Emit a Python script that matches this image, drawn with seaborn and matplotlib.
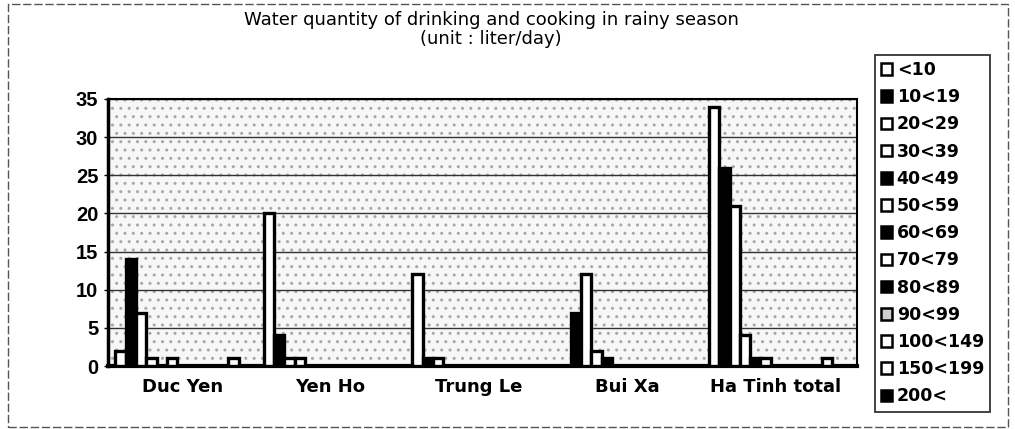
import numpy as np
import pandas as pd
import seaborn as sns
import matplotlib.pyplot as plt
from matplotlib.patches import Rectangle, Patch

communes = ["Duc Yen", "Yen Ho", "Trung Le", "Bui Xa", "Ha Tinh total"]
ranges = ["<10", "10<19", "20<29", "30<39", "40<49", "50<59", "60<69",
          "70<79", "80<89", "90<99", "100<149", "150<199", "200<"]

duc_yen = [2, 14, 7, 1, 0, 1, 0, 0, 0, 0, 0, 1, 0]
yen_ho = [20, 4, 1, 1, 0, 0, 0, 0, 0, 0, 0, 0, 0]
trung_le = [12, 1, 1, 0, 0, 0, 0, 0, 0, 0, 0, 0, 0]
bui_xa = [0, 7, 12, 2, 1, 0, 0, 0, 0, 0, 0, 0, 0]
ha_tinh = [34, 26, 21, 4, 1, 1, 0, 0, 0, 0, 0, 1, 0]

fills = ["white", "black", "white", "white", "black", "white", "black",
         "white", "black", "#d0d0d0", "white", "white", "black"]

rows = []
for name, vals in zip(communes, [duc_yen, yen_ho, trung_le, bui_xa, ha_tinh]):
    for r, v in zip(ranges, vals):
        rows.append({"commune": name, "range": r, "value": v})
df = pd.DataFrame(rows)

sns.set_theme(style="white")
plt.rcParams['font.family'] = ['DejaVu Sans']
plt.rcParams['text.color'] = 'black'
plt.rcParams['xtick.color'] = 'black'
plt.rcParams['ytick.color'] = 'black'
plt.rcParams['hatch.color'] = '#a8a8a8'

fig = plt.figure(figsize=(10.15, 4.29), dpi=100)
ax = fig.add_axes([108 / 1015, 1 - 366 / 429, (857 - 108) / 1015, (366 - 99) / 429])

# stippled background like the scanned print
ax.add_patch(Rectangle((0, 0), 1, 1, transform=ax.transAxes, facecolor="#f7f7f7",
                       edgecolor="#a8a8a8", hatch="..", linewidth=0, zorder=0))

palette = dict(zip(ranges, fills))
sns.barplot(data=df, x="commune", y="value", hue="range", hue_order=ranges,
            order=communes, palette=palette, edgecolor="black", linewidth=2.4,
            width=0.9, gap=0, legend=False, ax=ax, zorder=3)

ax.set_ylim(0, 35)
ax.set_xlim(-0.5, 4.547)
ax.set_yticks(range(0, 36, 5))
for y in range(5, 36, 5):
    ax.axhline(y, color="#333333", linewidth=1.0, zorder=1)
ax.set_xlabel("")
ax.set_ylabel("")
ax.tick_params(axis="y", pad=4, left=True, length=3, width=1, colors="black")
ax.tick_params(axis="x", pad=9, length=0, colors="black")
for lab in ax.get_yticklabels():
    lab.set_fontfamily("Liberation Sans")
    lab.set_fontsize(14.5)
    lab.set_fontweight("bold")
for lab in ax.get_xticklabels():
    lab.set_fontsize(13)
    lab.set_fontweight("bold")
for side in ["left", "bottom", "top", "right"]:
    ax.spines[side].set_visible(True)
    ax.spines[side].set_color("black")
    ax.spines[side].set_linewidth(1.5)
ax.spines["bottom"].set_linewidth(3)
ax.spines["left"].set_linewidth(2.5)

fig.text(491 / 1015, 1 - 20 / 429, "Water quantity of drinking and cooking in rainy season",
         ha="center", va="center", fontsize=13, color="black")
fig.text(491 / 1015, 1 - 39 / 429, "(unit : liter/day)", ha="center", va="center",
         fontsize=13, color="black")

handles = [Patch(facecolor=c, edgecolor="black", linewidth=1.8) for c in fills]
leg = fig.legend(handles, ranges, loc="upper left", bbox_to_anchor=(875 / 1015, 1 - 55 / 429),
                 frameon=True, fancybox=False, fontsize=12.5, handlelength=0.65,
                 handleheight=0.65, handletextpad=0.25, labelspacing=0.53, borderpad=0.35,
                 borderaxespad=0)
leg.get_frame().set_edgecolor("black")
leg.get_frame().set_linewidth(1.3)
for t in leg.get_texts():
    t.set_fontweight("bold")
    t.set_color("black")

# outer chart border
fig.patches.append(Rectangle((8 / 1015, 2 / 429), 1000 / 1015, 423 / 429, transform=fig.transFigure,
                             fill=False, edgecolor="#555555", linewidth=1, linestyle=(0, (6, 2))))

fig.savefig("out.png", dpi=100)
